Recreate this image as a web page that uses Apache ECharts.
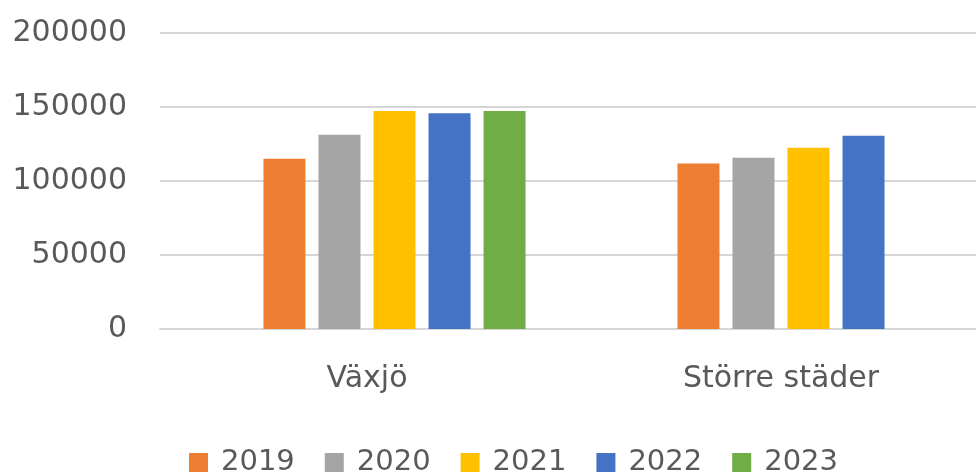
<!DOCTYPE html>
<html>
<head>
<meta charset="utf-8">
<script src="https://cdn.jsdelivr.net/npm/echarts@6/dist/echarts.min.js"></script>
<style>
html,body{margin:0;padding:0;background:#fff;overflow:hidden;width:976px;height:473px;}
#chart{width:988px;height:473px;}
</style>
</head>
<body>
<div id="chart"></div>
<script>
const categories = ['Växjö', 'Större städer'];
const seriesNames = ['2019', '2020', '2021', '2022', '2023'];
const values2019 = [115000, 111800];
const values2020 = [131300, 115700];
const values2021 = [147300, 122500];
const values2022 = [145800, 130600];
const values2023 = [147300, null];
const yTicks = [0, 50000, 100000, 150000, 200000];
const colors = ['#ED7D31', '#A5A5A5', '#FFC000', '#4472C4', '#70AD47'];

const allValues = [values2019, values2020, values2021, values2022, values2023];
const font = 'DejaVu Sans';
const textColor = '#595959';

const chart = echarts.init(document.getElementById('chart'), null, {renderer: 'canvas'});

const series = [{
  name: '_blank',
  type: 'bar',
  data: categories.map(() => null),
  barWidth: 42,
  barGap: '31%'
}];
seriesNames.forEach((n, i) => {
  series.push({
    name: n,
    type: 'bar',
    data: allValues[i],
    barWidth: 42,
    barGap: '31%',
    itemStyle: {color: colors[i]}
  });
});

chart.setOption({
  animation: false,
  backgroundColor: '#ffffff',
  grid: {left: 160, top: 33, height: 296, right: 0, containLabel: false},
  legend: {
    data: seriesNames,
    top: 443,
    left: 184,
    icon: 'rect',
    itemWidth: 19,
    itemHeight: 19,
    itemGap: 30,
    textStyle: {fontFamily: font, fontSize: 29, color: textColor, padding: [0, 0, 0, 8]}
  },
  xAxis: {
    type: 'category',
    data: categories,
    axisLine: {show: true, lineStyle: {color: '#d6d6d6', width: 2}},
    axisTick: {show: false},
    axisLabel: {fontFamily: font, fontSize: 30, color: textColor, margin: 35}
  },
  yAxis: {
    type: 'value',
    min: yTicks[0],
    max: yTicks[yTicks.length - 1],
    interval: yTicks[1] - yTicks[0],
    axisLine: {show: false},
    axisTick: {show: false},
    splitLine: {lineStyle: {color: '#d6d6d6', width: 2}},
    axisLabel: {fontFamily: font, fontSize: 30, color: textColor, margin: 33, formatter: v => String(v)}
  },
  series: series
});
</script>
</body>
</html>
